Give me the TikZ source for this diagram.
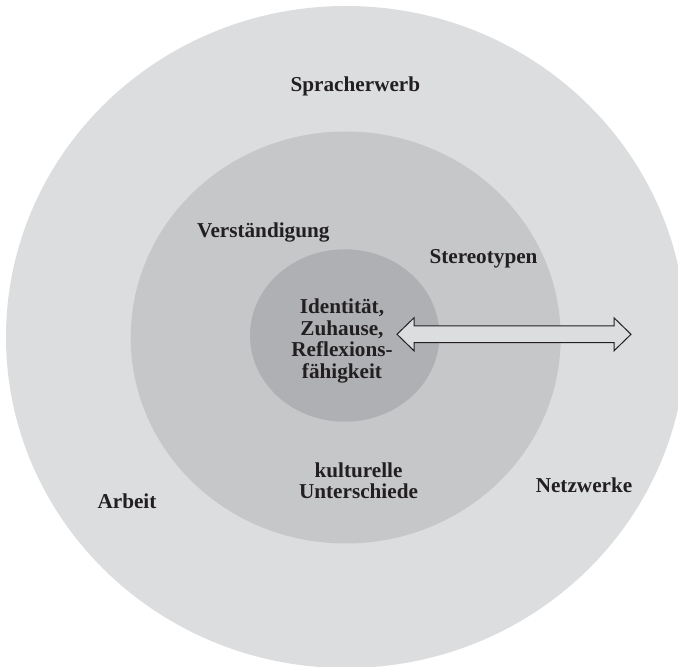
\documentclass[tikz,border=0pt]{standalone}
\usepackage{fontspec}
\setmainfont{Liberation Serif}
\usepackage{tikz}
\definecolor{ringouter}{RGB}{220,221,223}
\definecolor{ringmid}{RGB}{198,199,201}
\definecolor{ringcore}{RGB}{174,176,179}
\definecolor{inkdark}{RGB}{35,31,32}

\begin{document}
\begin{tikzpicture}[x=0.5pt,y=-0.5pt,
    lbl/.style={inkdark,inner sep=0pt,align=center,
      font=\bfseries\fontsize{10.6}{10.75}\selectfont},
    blockarrow/.style={draw=inkdark,fill=ringouter,line width=0.5pt,line join=miter}]
        \useasboundingbox (0,0) rectangle (678,667);
        \clip (0,0) rectangle (678,667);
        \fill[ringouter] (346,337) ellipse [x radius=340, y radius=331];
        \fill[ringmid] (345.7,337.5) ellipse [x radius=215, y radius=206];
        \fill[ringcore] (344.7,335.5) ellipse [x radius=94.7, y radius=86.2];
        \coordinate (linkL) at (397,334.3);
        \coordinate (linkR) at (631,334.3);
        \draw[blockarrow] (linkL) -- ++(17,-16.5) -- ++(0,8.2) -- ++(200,0) -- ++(0,-8.2)
          -- (linkR) -- ++(-17,16.5) -- ++(0,-8.2) -- ++(-200,0) -- ++(0,8.2) -- cycle;
        \node[lbl] (sprache) at (355.4,86.3) {Spracherwerb};
        \node[lbl] (verstand) at (263.3,232.9) {Verständigung};
        \node[lbl] (stereo) at (483.5,258.4) {Stereotypen};
        \node[lbl] (core) at (342,341) {Identität,\\Zuhause,\\Reflexions-\\fähigkeit};
        \node[lbl] (kultur) at (358.5,480.7) {kulturelle\\Unterschiede};
        \node[lbl] (arbeit) at (127,501.5) {Arbeit};
        \node[lbl] (netz) at (584,485.3) {Netzwerke};
      \end{tikzpicture}
\end{document}
